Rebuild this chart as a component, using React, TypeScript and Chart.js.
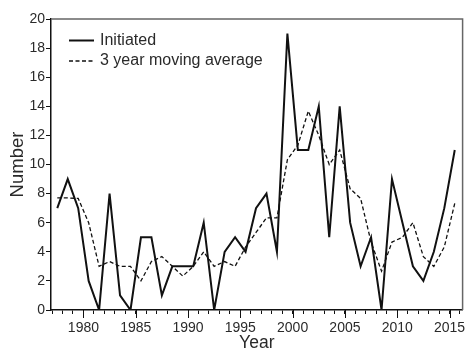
import { useEffect, useRef } from 'react';
import { Chart, registerables } from 'chart.js';

Chart.register(...registerables);

const years = [
  1978, 1979, 1980, 1981, 1982, 1983, 1984, 1985, 1986, 1987,
  1988, 1989, 1990, 1991, 1992, 1993, 1994, 1995, 1996, 1997,
  1998, 1999, 2000, 2001, 2002, 2003, 2004, 2005, 2006, 2007,
  2008, 2009, 2010, 2011, 2012, 2013, 2014, 2015, 2016,
];
const initiated = [
  7, 9, 7, 2, 0, 8, 1, 0, 5, 5,
  1, 3, 3, 3, 6, 0, 4, 5, 4, 7,
  8, 4, 19, 11, 11, 14, 5, 14, 6, 3,
  5, 0, 9, 6, 3, 2, 4, 7, 11,
];
const movingAverage = [
  7.7, 7.7, 7.67, 6, 3, 3.33, 3, 3, 2, 3.33,
  3.67, 3, 2.33, 3, 4, 3, 3.33, 3, 4.33, 5.33,
  6.33, 6.33, 10.33, 11.33, 13.67, 12, 10, 11, 8.33, 7.67,
  4.67, 2.67, 4.67, 5, 6, 3.67, 3, 4.33, 7.33,
];
const yTickValues = [0, 2, 4, 6, 8, 10, 12, 14, 16, 18, 20];
const xTickYears = [
  1977, 1978, 1979, 1980, 1981, 1982, 1983, 1984, 1985, 1986, 1987,
  1988, 1989, 1990, 1991, 1992, 1993, 1994, 1995, 1996, 1997,
  1998, 1999, 2000, 2001, 2002, 2003, 2004, 2005, 2006, 2007,
  2008, 2009, 2010, 2011, 2012, 2013, 2014, 2015, 2016,
];
const xLabelYears = [1980, 1985, 1990, 1995, 2000, 2005, 2010, 2015];
const seriesLabels = ['Initiated', '3 year moving average'];

const FONT = '"Liberation Sans", Arial, Helvetica, sans-serif';
const LINE = '#111111';
const TEXT = '#2a2a2a';
const POINT_OFFSET = -0.5;

const framePlugin = {
  id: 'frame',
  beforeDatasetsDraw(chart: any) {
    const { ctx, chartArea: a } = chart;
    ctx.save();
    ctx.strokeStyle = '#666666';
    ctx.lineWidth = 1.5;
    ctx.beginPath();
    ctx.moveTo(a.left, a.top);
    ctx.lineTo(a.right, a.top);
    ctx.lineTo(a.right, a.bottom);
    ctx.stroke();
    ctx.restore();
  },
  afterDraw(chart: any) {
    const { ctx, chartArea: a, scales } = chart;
    ctx.save();
    ctx.strokeStyle = LINE;
    ctx.lineWidth = 1;
    xLabelYears.forEach((yr) => {
      const x = Math.round(scales.x.getPixelForValue(yr)) + 0.5;
      ctx.beginPath();
      ctx.moveTo(x, a.bottom);
      ctx.lineTo(x, a.bottom + 8);
      ctx.stroke();
    });
    const lx0 = a.left + 18;
    const lx1 = a.left + 43;
    const tx = a.left + 49;
    const y1 = a.top + 21.5;
    const y2 = a.top + 42;
    ctx.font = `16px ${FONT}`;
    ctx.fillStyle = TEXT;
    ctx.textBaseline = 'middle';
    ctx.textAlign = 'left';
    ctx.strokeStyle = LINE;
    ctx.lineWidth = 2;
    ctx.beginPath();
    ctx.moveTo(lx0, y1);
    ctx.lineTo(lx1, y1);
    ctx.stroke();
    ctx.fillText(seriesLabels[0], tx, y1);
    ctx.lineWidth = 1.3;
    ctx.setLineDash([4, 2.5]);
    ctx.beginPath();
    ctx.moveTo(lx0, y2);
    ctx.lineTo(lx1, y2);
    ctx.stroke();
    ctx.setLineDash([]);
    ctx.fillText(seriesLabels[1], tx, y2);
    ctx.restore();
  },
};

export default function App() {
  const ref = useRef<HTMLCanvasElement>(null);
  useEffect(() => {
    if (!ref.current) return;
    const chart = new Chart(ref.current, {
      type: 'line',
      data: {
        datasets: [
          {
            label: seriesLabels[0],
            data: years.map((yr, i) => ({ x: yr + POINT_OFFSET, y: initiated[i] })),
            borderColor: LINE,
            borderWidth: 2,
            pointRadius: 0,
            tension: 0,
            fill: false,
          },
          {
            label: seriesLabels[1],
            data: years.map((yr, i) => ({ x: yr + POINT_OFFSET, y: movingAverage[i] })),
            borderColor: LINE,
            borderWidth: 1.3,
            borderDash: [4, 2.5],
            pointRadius: 0,
            tension: 0,
            fill: false,
          },
        ],
      },
      options: {
        responsive: false,
        animation: false,
        devicePixelRatio: 1,
        layout: { padding: { top: 19, right: 3, left: 0, bottom: 0 } },
        plugins: { legend: { display: false }, tooltip: { enabled: false } },
        scales: {
          x: {
            type: 'linear',
            min: 1976.9,
            max: 2016.25,
            afterBuildTicks: (s: any) => {
              s.ticks = xTickYears.map((v) => ({ value: v }));
            },
            afterFit: (s: any) => {
              s.height = 41;
            },
            ticks: {
              autoSkip: false,
              maxRotation: 0,
              padding: 6,
              color: TEXT,
              font: { family: FONT, size: 14 },
              callback: (v: any) => (xLabelYears.includes(Math.round(v)) ? String(Math.round(v)) : ''),
            },
            grid: { drawOnChartArea: false, tickLength: 4, tickColor: LINE, tickWidth: 1 },
            border: { color: LINE, width: 1.5 },
            title: {
              display: true,
              text: 'Year',
              color: TEXT,
              font: { family: FONT, size: 17.5, lineHeight: 0.85 },
              padding: 0,
            },
          },
          y: {
            type: 'linear',
            min: 0,
            max: 20,
            afterBuildTicks: (s: any) => {
              s.ticks = yTickValues.map((v) => ({ value: v }));
            },
            afterFit: (s: any) => {
              s.width = 51;
            },
            ticks: { padding: 1, color: TEXT, font: { family: FONT, size: 14 } },
            grid: { drawOnChartArea: false, tickLength: 5, tickColor: LINE, tickWidth: 1 },
            border: { color: LINE, width: 1.5 },
            title: {
              display: true,
              text: 'Number',
              color: TEXT,
              font: { family: FONT, size: 18.5, lineHeight: 1.2 },
              padding: { top: 7, bottom: 0 },
            },
          },
        },
      },
      plugins: [framePlugin],
    });
    return () => chart.destroy();
  }, []);
  return (
    <div style={{ position: 'absolute', left: 0, top: 0, width: 466, height: 351, background: '#fff' }}>
      <canvas ref={ref} width={466} height={351} />
    </div>
  );
}
